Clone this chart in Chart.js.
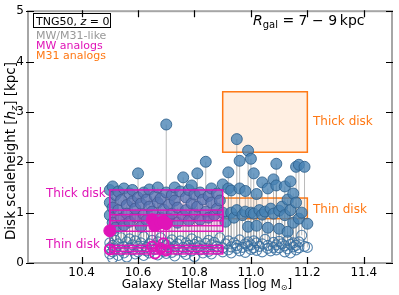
<!DOCTYPE html>
<html><head><meta charset="utf-8">
<script src="https://cdn.jsdelivr.net/npm/chart.js@4/dist/chart.umd.min.js"></script>
<style>html,body{margin:0;padding:0;background:#fff}</style>
</head><body>
<canvas id="c" width="399" height="295"></canvas>
<script>
// ---- data ----
const mass = [10.50,10.50,10.50,10.51,10.51,10.51,10.52,10.52,10.53,10.53,10.54,10.54,10.55,10.55,10.56,10.56,10.57,10.57,10.58,10.58,
10.59,10.59,10.60,10.60,10.61,10.61,10.62,10.62,10.63,10.63,10.64,10.64,10.65,10.66,10.66,10.67,10.67,10.68,10.68,10.69,
10.70,10.70,10.71,10.71,10.72,10.72,10.73,10.73,10.74,10.74,10.75,10.76,10.76,10.77,10.77,10.78,10.78,10.79,10.79,10.80,
10.80,10.81,10.81,10.82,10.82,10.83,10.84,10.84,10.85,10.85,10.86,10.86,10.87,10.88,10.88,10.89,10.90,10.90,10.91,10.92,
10.92,10.93,10.93,10.94,10.95,10.95,10.96,10.96,10.97,10.98,10.98,10.99,10.99,11.00,11.00,11.01,11.01,11.02,11.02,11.03,
11.04,11.04,11.05,11.06,11.06,11.07,11.08,11.08,11.09,11.09,11.10,11.10,11.11,11.12,11.12,11.13,11.13,11.14,11.14,11.15,
11.15,11.16,11.16,11.17,11.17,11.18,11.19,11.20];
const hzThick = [1.20,0.95,1.45,1.52,0.80,1.10,1.35,0.70,1.05,1.42,0.88,1.25,1.48,0.75,1.15,0.98,1.38,0.82,1.22,1.45,
0.92,1.08,1.78,1.30,0.72,1.18,1.40,0.96,1.26,0.85,1.12,1.46,1.02,1.33,0.78,1.20,1.50,0.90,1.28,1.06,
2.75,1.40,0.88,1.16,1.35,0.98,1.50,1.24,0.80,1.10,1.42,1.70,0.94,1.30,1.05,1.45,0.84,1.54,1.18,1.36,
0.97,1.78,1.12,1.40,0.86,1.26,2.01,1.02,1.33,0.90,1.20,1.48,0.95,1.38,1.08,1.24,1.56,1.00,0.82,1.48,
1.80,1.00,1.44,0.90,2.46,1.05,2.03,1.48,0.95,1.43,1.02,2.23,0.72,2.07,1.00,1.78,0.98,1.37,0.74,1.05,
1.60,0.96,1.02,1.48,0.70,1.08,1.66,0.98,1.97,1.54,1.04,0.68,1.12,1.52,0.95,1.26,0.62,1.62,1.05,1.38,
0.80,1.20,1.91,1.95,0.88,1.00,1.91,0.78];
const hzThin = [0.30,0.18,0.40,0.10,0.35,0.22,0.45,0.28,0.15,0.38,0.25,0.50,0.32,0.20,0.42,0.12,0.30,0.48,0.26,0.36,
0.18,0.44,0.33,0.22,0.40,0.28,0.15,0.52,0.31,0.24,0.38,0.20,0.45,0.27,0.34,0.16,0.42,0.29,0.50,0.23,
0.36,0.19,0.40,0.30,0.46,0.21,0.33,0.14,0.38,0.26,0.44,0.31,0.22,0.40,0.17,0.35,0.28,0.48,0.24,0.37,
0.13,0.30,0.42,0.26,0.34,0.20,0.39,0.29,0.45,0.23,0.36,0.18,0.41,0.27,0.33,0.50,0.30,0.22,0.38,0.26,
0.44,0.32,0.20,0.40,0.29,0.35,0.24,0.46,0.31,0.38,0.21,0.34,0.42,0.27,0.36,0.30,0.44,0.25,0.40,0.33,
0.22,0.38,0.47,0.29,0.35,0.24,0.41,0.31,0.36,0.26,0.43,0.30,0.38,0.22,0.34,0.45,0.28,0.37,0.20,0.32,
0.40,0.26,0.35,0.30,0.42,0.55,0.33,0.31];
const mwMass = [10.50,10.65,10.66,10.68,10.69,10.70];
const mwThick = [0.64,0.86,0.74,0.80,0.83,0.78];
const mwThin = [0.27,0.33,0.19,0.29,0.39,0.25];
const mwMassRange = [10.50,10.90];
const mwThickBoxes = [[0.63,1.45],[0.84,1.05],[0.74,0.96]];
const mwThinBoxes = [[0.18,0.35],[0.23,0.30]];
const m31MassRange = [10.90,11.20];
const m31ThickBox = [2.20,3.40];
const m31ThinBox = [0.88,1.29];
const xTicks = [10.4,10.6,10.8,11.0,11.2,11.4];
const yTicks = [0,1,2,3,4,5];

// ---- colours ----
const BLUE_FILL = 'rgba(70,130,180,0.78)';
const BLUE_EDGE = 'rgba(45,95,140,0.85)';
const MAG = 'rgb(224,20,184)';
const ORA = 'rgb(255,120,20)';
const FONT = '"DejaVu Sans", sans-serif';

function linePairs(xs, a, b) {
  const out = [];
  xs.forEach((x, i) => { out.push({x, y: a[i]}, {x, y: b[i]}, {x, y: null}); });
  return out;
}
const pts = (xs, ys) => xs.map((x, i) => ({x, y: ys[i]}));

function richText(ctx, x, y, parts, align) {
  let w = 0;
  parts.forEach(p => { ctx.font = p.f; w += ctx.measureText(p.t).width; });
  let cx = align === 'center' ? x - w / 2 : (align === 'right' ? x - w : x);
  ctx.textAlign = 'left';
  ctx.textBaseline = 'alphabetic';
  parts.forEach(p => { ctx.font = p.f; ctx.fillText(p.t, cx, y + (p.dy || 0)); cx += ctx.measureText(p.t).width; });
}

function rectV(ctx, xs, ys, x0, x1, y0, y1, fill, stroke) {
  const L = xs.getPixelForValue(x0), R = xs.getPixelForValue(x1);
  const T = ys.getPixelForValue(y1), B = ys.getPixelForValue(y0);
  ctx.fillStyle = fill; ctx.fillRect(L, T, R - L, B - T);
  ctx.strokeStyle = stroke; ctx.lineWidth = 1.5; ctx.strokeRect(L, T, R - L, B - T);
}

const deco = {
  id: 'deco',
  beforeDatasetsDraw(chart) {
    const {ctx, scales: {x, y}} = chart;
    ctx.save();
    rectV(ctx, x, y, m31MassRange[0], m31MassRange[1], m31ThickBox[0], m31ThickBox[1], 'rgba(255,127,14,0.12)', ORA);
    rectV(ctx, x, y, m31MassRange[0], m31MassRange[1], m31ThinBox[0], m31ThinBox[1], 'rgba(255,127,14,0.12)', ORA);
    ctx.restore();
  },
  afterDatasetDraw(chart, args) {
    if (args.index !== 2) return;
    const {ctx, scales: {x, y}} = chart;
    ctx.save();
    mwThickBoxes.forEach(b => rectV(ctx, x, y, mwMassRange[0], mwMassRange[1], b[0], b[1], 'rgba(224,20,184,0.11)', MAG));
    mwThinBoxes.forEach(b => rectV(ctx, x, y, mwMassRange[0], mwMassRange[1], b[0], b[1], 'rgba(224,20,184,0.11)', MAG));
    ctx.restore();
  },
  afterDraw(chart) {
    const {ctx, chartArea: a, scales: {x, y}} = chart;
    ctx.save();
    // spines
    ctx.strokeStyle = '#a6a6a6'; ctx.lineWidth = 2;
    ctx.strokeRect(a.left, a.top, a.right - a.left, a.bottom - a.top);
    // inward ticks
    ctx.strokeStyle = '#000'; ctx.lineWidth = 1.2;
    ctx.beginPath();
    xTicks.forEach(v => { const p = Math.round(x.getPixelForValue(v)) + 0.5;
      ctx.moveTo(p, a.bottom + 1); ctx.lineTo(p, a.bottom - 6);
      ctx.moveTo(p, a.top - 1); ctx.lineTo(p, a.top + 6); });
    yTicks.forEach(v => { const p = Math.round(y.getPixelForValue(v)) + 0.5;
      ctx.moveTo(a.left - 2, p); ctx.lineTo(a.left + 6, p);
      ctx.moveTo(a.right + 1, p); ctx.lineTo(a.right - 6, p); });
    ctx.stroke();
    // axis titles
    ctx.fillStyle = '#000';
    richText(ctx, (a.left + a.right) / 2 - 3, 288, [
      {t: 'Galaxy Stellar Mass [log M', f: '12px ' + FONT},
      {t: '\u2299', f: '8px ' + FONT, dy: 2},
      {t: ']', f: '12px ' + FONT}], 'center');
    ctx.save();
    ctx.translate(15, 151);
    ctx.rotate(-Math.PI / 2);
    richText(ctx, 0, 0, [
      {t: 'Disk scaleheight [', f: '13.5px ' + FONT},
      {t: 'h', f: 'italic 13.5px ' + FONT},
      {t: 'z', f: 'italic 9.5px ' + FONT, dy: 2},
      {t: '] [kpc]', f: '13.5px ' + FONT}], 'center');
    ctx.restore();
    // top-right annotation
    richText(ctx, 253, 25, [
      {t: 'R', f: 'italic 14px ' + FONT},
      {t: 'gal', f: '10px ' + FONT, dy: 3},
      {t: ' = 7 \u2212 9\u2009kpc', f: '14px ' + FONT}], 'left');
    // legend block
    ctx.strokeStyle = '#000'; ctx.lineWidth = 1;
    ctx.strokeRect(33.5, 13.5, 77, 14);
    richText(ctx, 36, 24.5, [
      {t: 'TNG50, ', f: '11px ' + FONT},
      {t: 'z', f: 'italic 11px ' + FONT},
      {t: ' = 0', f: '11px ' + FONT}], 'left');
    ctx.font = '11px ' + FONT; ctx.textAlign = 'left';
    ctx.fillStyle = '#999'; ctx.fillText('MW/M31-like', 36, 38.5);
    ctx.fillStyle = MAG; ctx.fillText('MW analogs', 36, 48.5);
    ctx.fillStyle = ORA; ctx.fillText('M31 analogs', 36, 59);
    // box labels
    ctx.font = '12px ' + FONT;
    ctx.fillStyle = MAG;
    ctx.fillText('Thick disk', 46, 197);
    ctx.fillText('Thin disk', 46, 248);
    ctx.fillStyle = ORA;
    ctx.fillText('Thick disk', 313, 125);
    ctx.fillText('Thin disk', 313, 213);
    ctx.restore();
  }
};

const chart = new Chart(document.getElementById('c'), {
  type: 'scatter',
  data: {
    datasets: [
      {data: pts(mwMass, mwThick), order: 0, pointRadius: 6, pointBackgroundColor: MAG, pointBorderColor: MAG, pointBorderWidth: 1},
      {data: pts(mwMass, mwThin), order: 1, pointRadius: 5, pointBackgroundColor: 'rgba(0,0,0,0)', pointBorderColor: MAG, pointBorderWidth: 2},
      {data: pts(mass, hzThick), order: 3, pointRadius: 5.5, pointBackgroundColor: BLUE_FILL, pointBorderColor: BLUE_EDGE, pointBorderWidth: 1},
      {data: pts(mass, hzThin), order: 4, pointRadius: 5, pointBackgroundColor: 'rgba(0,0,0,0)', pointBorderColor: 'rgba(55,110,160,0.85)', pointBorderWidth: 1.1},
      {data: linePairs(mass, hzThin, hzThick), order: 5, showLine: true, spanGaps: false, pointRadius: 0, borderColor: 'rgba(130,130,130,0.55)', borderWidth: 1},
      {data: linePairs(mwMass, mwThin, mwThick), order: 2, showLine: true, spanGaps: false, pointRadius: 0, borderColor: 'rgba(224,20,184,0.6)', borderWidth: 1}
    ]
  },
  options: {
    responsive: false, animation: false, events: [],
    layout: {padding: {top: 7, right: 4, left: 0, bottom: 0}},
    plugins: {legend: {display: false}, tooltip: {enabled: false}},
    scales: {
      x: {type: 'linear', min: 10.21, max: 11.5,
        afterFit: s => { s.height = 32; },
        afterBuildTicks: s => { s.ticks = xTicks.map(v => ({value: v})); },
        grid: {display: true, drawOnChartArea: false, drawTicks: false},
        border: {display: false},
        ticks: {padding: 3, color: '#000', font: {family: 'DejaVu Sans', size: 12}, callback: v => v.toFixed(1), maxRotation: 0, autoSkip: false}},
      y: {type: 'linear', min: 0, max: 5,
        afterFit: s => { s.width = 28; },
        afterBuildTicks: s => { s.ticks = yTicks.map(v => ({value: v})); },
        grid: {display: true, drawOnChartArea: false, drawTicks: false},
        border: {display: false},
        ticks: {padding: 4, color: '#000', font: {family: 'DejaVu Sans', size: 12}, callback: v => String(v), autoSkip: false}}
    }
  },
  plugins: [deco]
});
// nudge layout padding so the plot area sits where the reference has it
const target = {left: 28, top: 7, right: 395, bottom: 263};
for (let k = 0; k < 4; k++) {
  const a = chart.chartArea, p = chart.options.layout.padding;
  p.top = Math.max(0, p.top + target.top - a.top);
  p.bottom = Math.max(0, p.bottom + a.bottom - target.bottom);
  p.left = Math.max(0, p.left + target.left - a.left);
  p.right = Math.max(0, p.right + a.right - target.right);
  chart.update('none');
}
</script>
</body></html>
